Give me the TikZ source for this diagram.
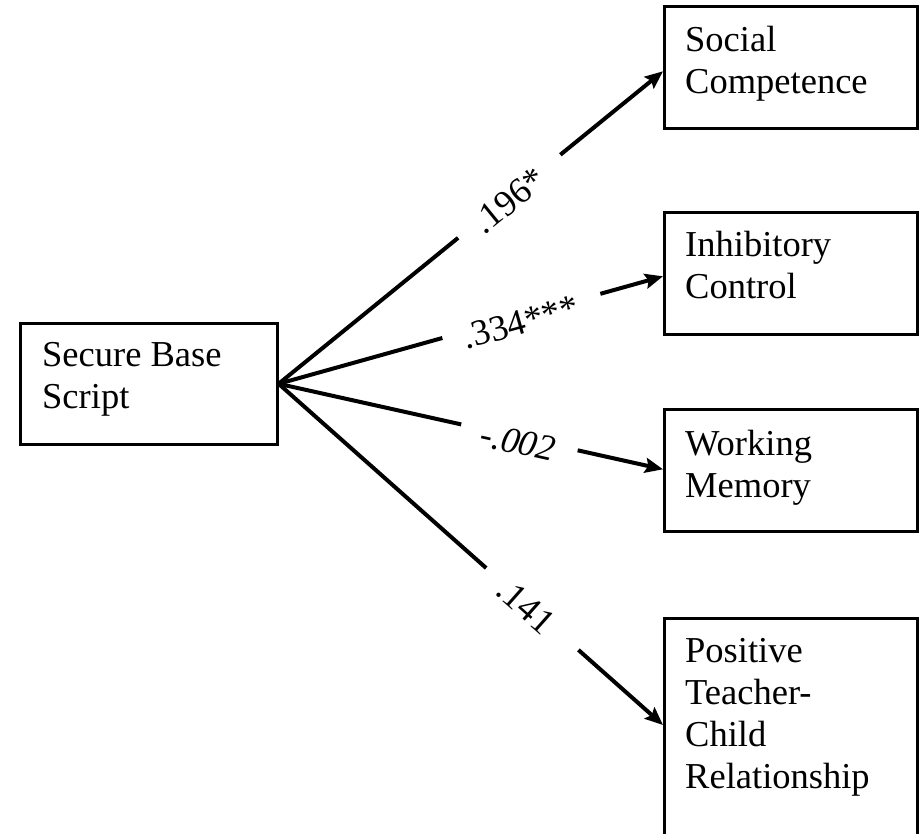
\documentclass[tikz,border=0pt]{standalone}
\usepackage{fontspec}
\setmainfont{Liberation Serif}
\usetikzlibrary{arrows.meta,calc}
\begin{document}
\begin{tikzpicture}[x=1pt,y=-1pt,
  box/.style={draw, line width=2.6pt, rectangle, anchor=north west, inner sep=0pt,
              minimum width=253pt, minimum height=122pt},
  % multi-line labels are placed by the baseline of their last line
  txt/.style={anchor=base west, align=left, inner sep=0pt,
              font=\fontsize{36.5}{42}\selectfont},
  link/.style={line width=4pt},
  arr/.style={link, -{Stealth[length=18pt,width=15pt,inset=3pt]}},
  coef/.style={sloped, inner sep=0pt, font=\fontsize{36.5}{42}\selectfont}]
\useasboundingbox (0,0) rectangle (922,834);
\clip (0,0) rectangle (922,834);

% predictor
\node[box, minimum width=257pt, minimum height=121pt] (sb) at (19,322) {};
\node[txt] (sbt) at (42,409) {Secure Base\\Script};

% outcomes
\node[box] (sc) at (663,5) {};
\node[txt] (sct) at (685,94) {Social\\Competence};
\node[box] (ic) at (663,211) {};
\node[txt] (ict) at (685,299) {Inhibitory\\Control};
\node[box] (wm) at (663,408) {};
\node[txt] (wmt) at (685,497) {Working\\Memory};
\node[box, minimum height=240pt] (pt) at (663,617) {};
\node[txt] (ptt) at (685,788) {Positive\\Teacher-\\Child\\Relationship};

% arrow targets on the left sides of the outcome boxes
\coordinate (sc-in) at ($(sc.west)+(0,4)$);
\coordinate (ic-in) at ($(ic.west)+(0,3)$);
\coordinate (wm-in) at ($(wm.west)+(0,-1)$);
\coordinate (pt-in) at ($(pt.north west)+(0,108)$);

% paths with coefficients set in a gap, each label a little below its line
\draw[link] (sb.east) -- ($(sb.east)!0.467!(sc-in)$);
\draw[arr] ($(sb.east)!0.733!(sc-in)$) -- (sc-in);
\path ($(sb.east)+(0,4)$) -- ($(sc-in)+(0,4)$) node[coef, pos=0.60] (c1) {.196*};

\draw[link] (sb.east) -- ($(sb.east)!0.426!(ic-in)$);
\draw[arr] ($(sb.east)!0.837!(ic-in)$) -- (ic-in);
\path ($(sb.east)+(0,6)$) -- ($(ic-in)+(0,6)$) node[coef, pos=0.63] (c2) {.334***};

\draw[link] (sb.east) -- ($(sb.east)!0.475!(wm-in)$);
\draw[arr] ($(sb.east)!0.778!(wm-in)$) -- (wm-in);
\path ($(sb.east)+(0,5)$) -- ($(wm-in)+(0,5)$) node[coef, pos=0.623] (c3) {\textit{-.002}};

\draw[link] (sb.east) -- ($(sb.east)!0.54!(pt-in)$);
\draw[arr] ($(sb.east)!0.78!(pt-in)$) -- (pt-in);
\path ($(sb.east)+(0,3)$) -- ($(pt-in)+(0,3)$) node[coef, pos=0.643] (c4) {.141};
\end{tikzpicture}
\end{document}
